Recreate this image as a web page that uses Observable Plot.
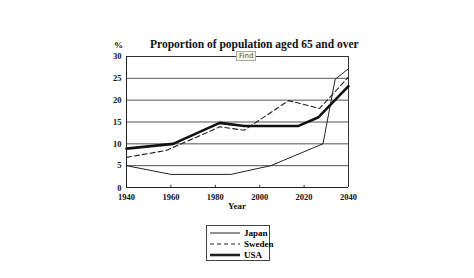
<!DOCTYPE html>
<html><head><meta charset="utf-8">
<script src="https://cdn.jsdelivr.net/npm/d3@7"></script>
<script src="https://cdn.jsdelivr.net/npm/@observablehq/plot@0.6"></script>
<style>
body{margin:0;background:#fff;width:474px;height:278px;overflow:hidden;font-family:"Liberation Serif","Times New Roman",serif;}
#wrap{position:relative;width:474px;height:278px;}
#chart{position:absolute;left:0;top:0;}
.t{position:absolute;font-weight:bold;color:#111;white-space:nowrap;}
#legend{position:absolute;left:206px;top:225px;width:64px;height:36px;border:1px solid #444;box-sizing:border-box;font-size:9px;font-weight:bold;}
#legend div{position:absolute;left:3px;height:11px;display:flex;align-items:center;}
#legend svg{margin-right:4px;}
#find{position:absolute;left:236px;top:51px;font-size:7px;font-family:"DejaVu Sans",sans-serif;color:#555;border:1px solid #aaa;background:#f6f4dc;padding:0 2px;line-height:8px;}
</style></head>
<body><div id="wrap"><div id="chart"></div>
<div class="t" style="left:150px;top:38px;font-size:11.5px;">Proportion of population aged 65 and over</div>
<div class="t" style="left:114px;top:40px;font-size:9px;">%</div>
<div class="t" style="left:228px;top:201px;font-size:9px;">Year</div>
<div id="find">Find</div>
<div id="legend"></div>
</div>
<script>
const years = [1940, 1960, 1980, 2000, 2020, 2040];
const yTicks = [0, 5, 10, 15, 20, 25, 30];
const japanYears = [1940, 1960, 1987, 2005, 2028.5, 2034, 2040];
const japanValues = [5, 3, 3, 5, 10, 24.8, 27.2];
const swedenYears = [1940, 1958, 1982, 1993, 2013, 2027, 2040];
const swedenValues = [6.9, 8.5, 13.9, 13.1, 19.9, 18.1, 25.3];
const usaYears = [1940, 1961, 1982, 1993, 2017.5, 2026.5, 2040];
const usaValues = [8.9, 10, 14.8, 14.1, 14.1, 16.1, 23.2];

const mk = (ys, vs) => ys.map((x, i) => ({x, y: vs[i]}));
const japan = mk(japanYears, japanValues);
const sweden = mk(swedenYears, swedenValues);
const usa = mk(usaYears, usaValues);

const chart = Plot.plot({
  width: 474, height: 278,
  marginLeft: 126, marginRight: 126, marginTop: 56, marginBottom: 91,
  style: {background: "#fff", fontFamily: "Liberation Serif, serif", fontWeight: "bold", fontSize: "8.5px", color: "#111"},
  x: {type: "linear", domain: [1940, 2040], ticks: years, tickFormat: d => String(d), label: null, tickSize: 0, tickPadding: 6},
  y: {type: "linear", domain: [0, 30], ticks: yTicks, label: null, tickSize: 0, tickPadding: 5},
  marks: [
    Plot.ruleY([5, 10, 15, 20, 25], {stroke: "#555", strokeWidth: 1}),
    Plot.ruleY([30], {stroke: "#333", strokeWidth: 1}),
    Plot.ruleY([0], {stroke: "#222", strokeWidth: 1}),
    Plot.ruleX([1940], {stroke: "#222", strokeWidth: 1}),
    Plot.ruleX([2040], {stroke: "#333", strokeWidth: 1}),
    Plot.ruleX(years.slice(1, -1), {y1: 0, y2: 0.5, stroke: "#333", strokeWidth: 1}),
    Plot.line(japan, {x: "x", y: "y", stroke: "#222", strokeWidth: 1}),
    Plot.line(sweden, {x: "x", y: "y", stroke: "#222", strokeWidth: 1.1, strokeDasharray: "5,3"}),
    Plot.line(usa, {x: "x", y: "y", stroke: "#111", strokeWidth: 2.6})
  ]
});
chart.querySelectorAll("g[aria-label='y-axis tick label'] text").forEach(t => {
  if (t.textContent === "0") t.setAttribute("dy", "0.05em");
});
document.getElementById("chart").appendChild(chart);

const legendItems = [
  {name: "Japan", w: 1, dash: null},
  {name: "Sweden", w: 1.1, dash: "4,3"},
  {name: "USA", w: 2.6, dash: null}
];
const lg = document.getElementById("legend");
legendItems.forEach((it, i) => {
  const d = document.createElement("div");
  d.style.top = (1 + i * 11) + "px";
  d.innerHTML = `<svg width="30" height="6"><line x1="0" x2="30" y1="3" y2="3" stroke="#222" stroke-width="${it.w}" ${it.dash ? `stroke-dasharray="${it.dash}"` : ""}/></svg>${it.name}`;
  lg.appendChild(d);
});
</script></body></html>
